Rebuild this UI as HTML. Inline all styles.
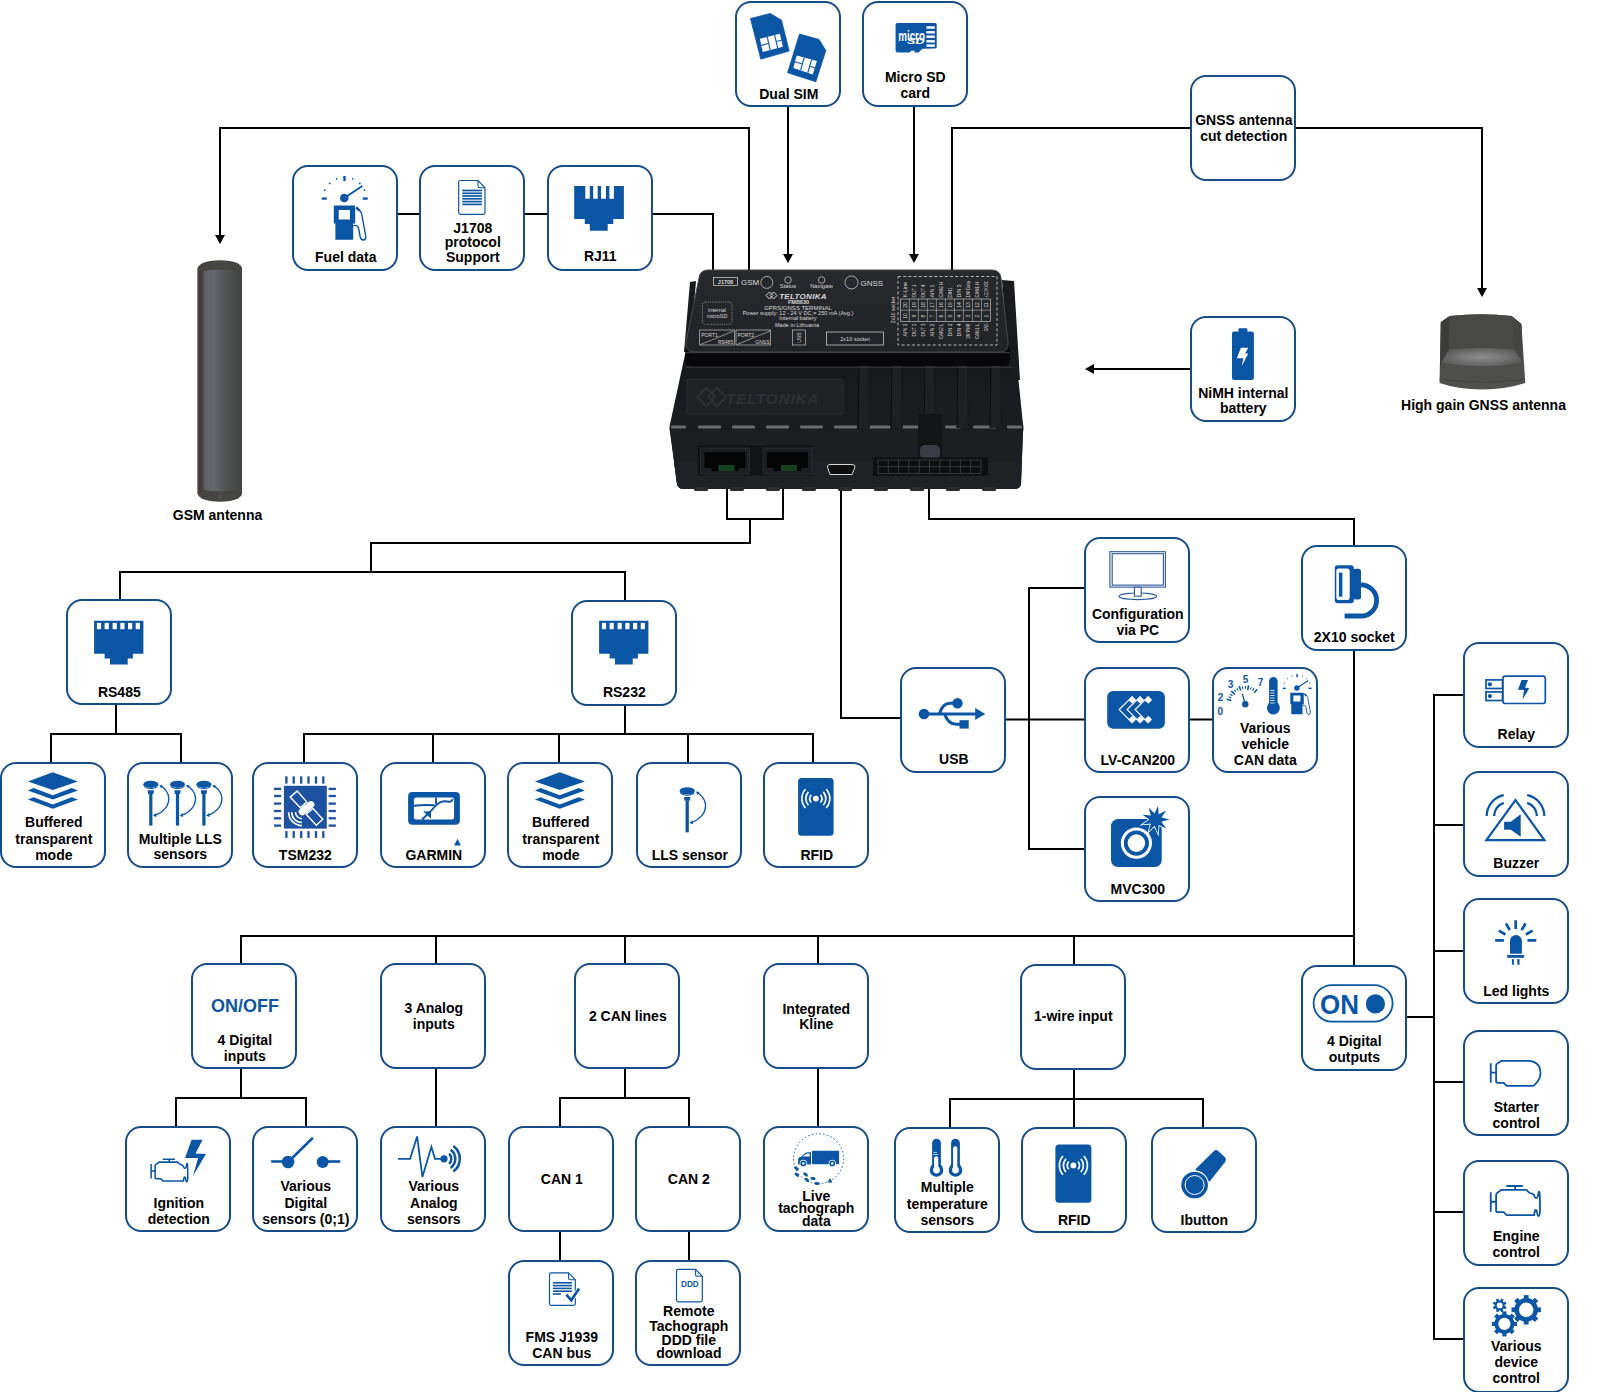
<!DOCTYPE html><html><head><meta charset="utf-8"><style>html,body{margin:0;padding:0;background:#fff;width:1609px;height:1392px;overflow:hidden}svg{display:block}text{font-family:"Liberation Sans",sans-serif;font-weight:bold;font-size:14px;fill:#000}</style></head><body>
<svg width="1609" height="1392" viewBox="0 0 1609 1392">
<rect width="1609" height="1392" fill="#fff"/>
<g fill="none" stroke="#000" stroke-width="2" stroke-linecap="square">
<path d="M749,270 V128 H220 V236"/>
<path d="M398,214 H420"/>
<path d="M524,214 H547"/>
<path d="M652,214 H713 V270"/>
<path d="M788,106 V253"/>
<path d="M914,106 V253"/>
<path d="M952,270 V128 H1191"/>
<path d="M1296,128 H1482 V289"/>
<path d="M1190,369 H1093"/>
<path d="M727,474 V519 H783 V474"/>
<path d="M750,519 V543 H371 V572"/>
<path d="M120,600 V572 H625 V600"/>
<path d="M116,704 V734"/>
<path d="M51,763 V734 H181 V763"/>
<path d="M625,705 V734"/>
<path d="M304,763 V734 H813 V763"/>
<path d="M433,734 V763"/>
<path d="M559,734 V763"/>
<path d="M688,734 V763"/>
<path d="M841,474 V718 H901"/>
<path d="M1005,719.5 H1085"/>
<path d="M1085,588 H1029 V849 H1085"/>
<path d="M1189,719.5 H1212"/>
<path d="M929,476 V519 H1354 V545"/>
<path d="M1354,650 V965"/>
<path d="M241,936 H1354"/>
<path d="M241,936 V964"/>
<path d="M436,936 V964"/>
<path d="M625,936 V964"/>
<path d="M818,936 V964"/>
<path d="M1074,936 V964"/>
<path d="M241,1068 V1098"/>
<path d="M176,1126 V1098 H306 V1126"/>
<path d="M436,1068 V1126"/>
<path d="M625,1068 V1098"/>
<path d="M560,1127 V1098 H689 V1127"/>
<path d="M560,1231 V1260"/>
<path d="M689,1231 V1260"/>
<path d="M818,1068 V1127"/>
<path d="M1074,1069 V1128"/>
<path d="M950,1128 V1099 H1203 V1128"/>
<path d="M1406,1017 H1434"/>
<path d="M1463,695 H1434 V1339 H1463"/>
<path d="M1434,825 H1463"/>
<path d="M1434,951 H1463"/>
<path d="M1434,1082 H1463"/>
<path d="M1434,1212 H1463"/>
</g><g fill="#000">
<path d="M215,235 H225 L220,244 Z"/>
<path d="M783,254 H793 L788,263 Z"/>
<path d="M909,254 H919 L914,263 Z"/>
<path d="M1477,288 H1487 L1482,297 Z"/>
<path d="M1085,369 L1094,364 V374 Z"/>
</g>
<g id="device">
<defs><linearGradient id="dtop" x1="0" y1="0" x2="0" y2="1"><stop offset="0" stop-color="#16171a"/><stop offset="1" stop-color="#222327"/></linearGradient><linearGradient id="lid" x1="0" y1="0" x2="0" y2="1"><stop offset="0" stop-color="#28292c"/><stop offset="1" stop-color="#222326"/></linearGradient></defs>
<path d="M686,350 L1010,350 L1016,356 L1023,424 Q1024,428 1023,432 L1021,484 Q1020,489 1014,489 L684,489 Q678,489 677,484 L670,432 Q669,428 670,424 Z" fill="url(#dtop)"/>
<path d="M670,430 H1023 L1021,484 Q1020,489 1014,489 H684 Q678,489 677,484 Z" fill="#1d1e22"/>
<path d="M674,462 H1021 V484 Q1020,489 1014,489 H684 Q678,489 677,484 Z" fill="#202125" opacity="0.9"/>
<rect x="694" y="487" width="14" height="4" rx="1.5" fill="#2a2c30"/>
<rect x="730" y="487" width="14" height="4" rx="1.5" fill="#2a2c30"/>
<rect x="766" y="487" width="14" height="4" rx="1.5" fill="#2a2c30"/>
<rect x="802" y="487" width="14" height="4" rx="1.5" fill="#2a2c30"/>
<rect x="838" y="487" width="14" height="4" rx="1.5" fill="#2a2c30"/>
<rect x="874" y="487" width="14" height="4" rx="1.5" fill="#2a2c30"/>
<rect x="910" y="487" width="14" height="4" rx="1.5" fill="#2a2c30"/>
<rect x="946" y="487" width="14" height="4" rx="1.5" fill="#2a2c30"/>
<rect x="982" y="487" width="14" height="4" rx="1.5" fill="#2a2c30"/>
<rect x="670" y="425" width="353" height="5" fill="#1a1b1d"/>
<rect x="671" y="425.5" width="15" height="3" rx="1" fill="#6b6d70"/>
<rect x="698" y="425.5" width="23" height="3" rx="1" fill="#6b6d70"/>
<rect x="732" y="425.5" width="23" height="3" rx="1" fill="#6b6d70"/>
<rect x="766" y="425.5" width="23" height="3" rx="1" fill="#6b6d70"/>
<rect x="800" y="425.5" width="23" height="3" rx="1" fill="#6b6d70"/>
<rect x="834" y="425.5" width="23" height="3" rx="1" fill="#6b6d70"/>
<rect x="868" y="425.5" width="23" height="3" rx="1" fill="#6b6d70"/>
<rect x="902" y="425.5" width="23" height="3" rx="1" fill="#6b6d70"/>
<rect x="945" y="425.5" width="16" height="3" rx="1" fill="#6b6d70"/>
<rect x="973" y="425.5" width="23" height="3" rx="1" fill="#6b6d70"/>
<rect x="1007" y="425.5" width="15" height="3" rx="1" fill="#6b6d70"/>
<rect x="687" y="379" width="156" height="35" rx="2" fill="#202125" stroke="#2e3034" stroke-width="0.8"/>
<text x="726" y="404" style="font-family:'Liberation Sans',sans-serif;font-weight:bold;font-style:italic;font-size:15px;fill:#2e3034;letter-spacing:1px">TELTONIKA</text>
<path d="M697,397 l9,-9 l9,9 l-9,9 z M708,397 l9,-9 l9,9 l-9,9 z" fill="none" stroke="#2e3034" stroke-width="2"/>
<path d="M859,365 H868 L869,428 H858 Z" fill="#1f2024"/>
<path d="M859,365 L858,428" stroke="#0e0f11" stroke-width="1.2"/>
<path d="M868.5,365 L869.5,428" stroke="#18191c" stroke-width="1"/>
<rect x="859" y="365" width="9" height="1.6" fill="#55575b"/>
<path d="M892,365 H901 L902,428 H891 Z" fill="#1f2024"/>
<path d="M892,365 L891,428" stroke="#0e0f11" stroke-width="1.2"/>
<path d="M901.5,365 L902.5,428" stroke="#18191c" stroke-width="1"/>
<rect x="892" y="365" width="9" height="1.6" fill="#55575b"/>
<path d="M925,365 H934 L935,428 H924 Z" fill="#1f2024"/>
<path d="M925,365 L924,428" stroke="#0e0f11" stroke-width="1.2"/>
<path d="M934.5,365 L935.5,428" stroke="#18191c" stroke-width="1"/>
<rect x="925" y="365" width="9" height="1.6" fill="#55575b"/>
<path d="M958,365 H967 L968,428 H957 Z" fill="#1f2024"/>
<path d="M958,365 L957,428" stroke="#0e0f11" stroke-width="1.2"/>
<path d="M967.5,365 L968.5,428" stroke="#18191c" stroke-width="1"/>
<rect x="958" y="365" width="9" height="1.6" fill="#55575b"/>
<path d="M991,365 H1000 L1001,428 H990 Z" fill="#1f2024"/>
<path d="M991,365 L990,428" stroke="#0e0f11" stroke-width="1.2"/>
<path d="M1000.5,365 L1001.5,428" stroke="#18191c" stroke-width="1"/>
<rect x="991" y="365" width="9" height="1.6" fill="#55575b"/>
<path d="M918,414 H942 V458 H918 Z" fill="#141517"/>
<rect x="920" y="445" width="20" height="14" rx="5" fill="#3a3d44"/>
<rect x="698" y="445.5" width="114" height="30" fill="#111214"/>
<rect x="700.5" y="448" width="49" height="26" fill="#1d1e21" stroke="#2c2e31" stroke-width="0.8"/>
<path d="M704.5,452 H745.5 V468 H738.5 V471 H711.5 V468 H704.5 Z" fill="#050505"/>
<rect x="718.5" y="465" width="16" height="6" fill="#16401f"/>
<rect x="763" y="448" width="49" height="26" fill="#1d1e21" stroke="#2c2e31" stroke-width="0.8"/>
<path d="M767,452 H808 V468 H801 V471 H774 V468 H767 Z" fill="#050505"/>
<rect x="781" y="465" width="16" height="6" fill="#16401f"/>
<path d="M830,464.5 H852 Q855,464.5 855,467 L852,474.5 H830 L827.5,467 Q827.5,464.5 830,464.5 Z" fill="#0c0c0c" stroke="#d8d8d8" stroke-width="1"/>
<rect x="873" y="457.5" width="115" height="18" fill="#0e0f10"/>
<g fill="none" stroke="#3a3c40" stroke-width="0.9">
<rect x="878" y="460" width="103" height="13.5"/>
<path d="M878,466.7 H981"/>
<path d="M888.3,460 V473.5"/>
<path d="M898.6,460 V473.5"/>
<path d="M908.9,460 V473.5"/>
<path d="M919.2,460 V473.5"/>
<path d="M929.5,460 V473.5"/>
<path d="M939.8,460 V473.5"/>
<path d="M950.1,460 V473.5"/>
<path d="M960.4,460 V473.5"/>
<path d="M970.7,460 V473.5"/>
</g>
<path d="M690,282 L696,281 L690,352 L684,352 Z" fill="#1a1b1d"/>
<path d="M1002,280 L1014,281 L1020,380 L1010,380 Z" fill="#1a1b1d"/>
<path d="M686,344 L1009,344 L1010,358 Q1010,366.5 1003,366.5 L692,366.5 Q685,366.5 685,358 Z" fill="#08080b"/><path d="M686,352.7 H1009.5" stroke="#55575b" stroke-width="0.8"/><path d="M686,367.2 H1012" stroke="#46484c" stroke-width="0.8"/>
<path d="M708,270 H992 Q1000,270 1001,278 L1008,342 Q1009,352 1000,352 H694 Q685,352 686,342 L699,278 Q700,270 708,270 Z" fill="url(#lid)"/>
<path d="M708,270 H992 Q1000,270 1001,278 L1008,342 Q1009,352 1000,352 H694 Q685,352 686,342 L699,278 Q700,270 708,270 Z" fill="none" stroke="#47484b" stroke-width="1"/>
<g><rect x="713.5" y="277.5" width="24" height="8" fill="none" stroke="#d9d9d9" stroke-width="0.7"/><text x="725.5" y="284" text-anchor="middle" style="font-family:'Liberation Sans',sans-serif;fill:#d9d9d9;font-weight:normal;font-size:5.5px;font-weight:bold">J1708</text><text x="741" y="285.2" style="font-family:'Liberation Sans',sans-serif;fill:#d9d9d9;font-weight:normal;font-size:8px">GSM</text><circle cx="766.8" cy="282.4" r="6" fill="none" stroke="#d9d9d9" stroke-width="0.7"/><circle cx="788" cy="280" r="3.3" fill="none" stroke="#d9d9d9" stroke-width="0.7"/><text x="788" y="287.6" text-anchor="middle" style="font-family:'Liberation Sans',sans-serif;fill:#d9d9d9;font-weight:normal;font-size:5.8px">Status</text><circle cx="821.6" cy="280" r="3.3" fill="none" stroke="#d9d9d9" stroke-width="0.7"/><text x="821.6" y="287.6" text-anchor="middle" style="font-family:'Liberation Sans',sans-serif;fill:#d9d9d9;font-weight:normal;font-size:5.8px">Navigate</text><circle cx="851.5" cy="282.4" r="6.5" fill="none" stroke="#d9d9d9" stroke-width="0.7"/><text x="860.5" y="285.5" style="font-family:'Liberation Sans',sans-serif;fill:#d9d9d9;font-weight:normal;font-size:8px">GNSS</text><text x="803" y="299" text-anchor="middle" style="font-family:'Liberation Sans',sans-serif;fill:#d9d9d9;font-weight:normal;font-size:8px;font-weight:bold;font-style:italic;letter-spacing:0.3px">TELTONIKA</text><path d="M766,295.5 l3.5,-3.5 l3.5,3.5 l-3.5,3.5 z M770,295.5 l3.5,-3.5 l3.5,3.5 l-3.5,3.5 z" fill="none" stroke="#d9d9d9" stroke-width="1"/><text x="798.5" y="304.3" text-anchor="middle" style="font-family:'Liberation Sans',sans-serif;fill:#d9d9d9;font-weight:normal;font-size:5.5px;font-weight:bold">FMB630</text><text x="798" y="310.3" text-anchor="middle" style="font-family:'Liberation Sans',sans-serif;fill:#d9d9d9;font-weight:normal;font-size:6px">GPRS/GNSS TERMINAL</text><text x="798" y="315.4" text-anchor="middle" style="font-family:'Liberation Sans',sans-serif;fill:#d9d9d9;font-weight:normal;font-size:5.6px">Power supply: 12 - 24 V DC,= 250 mA (Avg.)</text><text x="798" y="320.4" text-anchor="middle" style="font-family:'Liberation Sans',sans-serif;fill:#d9d9d9;font-weight:normal;font-size:5.6px">Internal battery</text><text x="797" y="327" text-anchor="middle" style="font-family:'Liberation Sans',sans-serif;fill:#d9d9d9;font-weight:normal;font-size:5.6px">Made in Lithuania</text><rect x="702.5" y="302" width="29.5" height="22.3" rx="3" fill="none" stroke="#d9d9d9" stroke-width="0.6" stroke-dasharray="1,1.2"/><text x="717" y="312" text-anchor="middle" style="font-family:'Liberation Sans',sans-serif;fill:#d9d9d9;font-weight:normal;font-size:5.4px">Internal</text><text x="717" y="317.5" text-anchor="middle" style="font-family:'Liberation Sans',sans-serif;fill:#d9d9d9;font-weight:normal;font-size:5.4px">microSD</text><rect x="699.7" y="330" width="34.7" height="15" fill="none" stroke="#d9d9d9" stroke-width="0.6"/><path d="M700.7,344.5 L733.7,331" stroke="#d9d9d9" stroke-width="0.6"/><text x="701.2" y="336.5" style="font-family:'Liberation Sans',sans-serif;fill:#d9d9d9;font-weight:normal;font-size:5px">PORT1</text><text x="733.2" y="344" text-anchor="end" style="font-family:'Liberation Sans',sans-serif;fill:#d9d9d9;font-weight:normal;font-size:5px">RS485</text><rect x="736" y="330" width="34.7" height="15" fill="none" stroke="#d9d9d9" stroke-width="0.6"/><path d="M737,344.5 L770,331" stroke="#d9d9d9" stroke-width="0.6"/><text x="737.5" y="336.5" style="font-family:'Liberation Sans',sans-serif;fill:#d9d9d9;font-weight:normal;font-size:5px">PORT2</text><text x="769.5" y="344" text-anchor="end" style="font-family:'Liberation Sans',sans-serif;fill:#d9d9d9;font-weight:normal;font-size:5px">GNSS</text><rect x="792.5" y="330" width="12.9" height="15" fill="none" stroke="#d9d9d9" stroke-width="0.6"/><text x="0" y="0" transform="translate(801,337.5) rotate(-90)" text-anchor="middle" style="font-family:'Liberation Sans',sans-serif;fill:#d9d9d9;font-weight:normal;font-size:5px">USB</text><rect x="826.6" y="332" width="57" height="13" fill="none" stroke="#d9d9d9" stroke-width="0.7"/><text x="855" y="340.8" text-anchor="middle" style="font-family:'Liberation Sans',sans-serif;fill:#d9d9d9;font-weight:normal;font-size:5.5px">2x10 socket</text><rect x="898" y="276.5" width="99" height="68.5" fill="none" stroke="#d9d9d9" stroke-width="0.8" stroke-dasharray="3,2.2"/><rect x="900.3" y="299" width="90.2" height="22.4" fill="none" stroke="#d9d9d9" stroke-width="0.6"/><path d="M900.3,310.2 H990.5" stroke="#d9d9d9" stroke-width="0.5"/><path d="M909.32,299 V321.4" stroke="#d9d9d9" stroke-width="0.5"/><path d="M918.34,299 V321.4" stroke="#d9d9d9" stroke-width="0.5"/><path d="M927.36,299 V321.4" stroke="#d9d9d9" stroke-width="0.5"/><path d="M936.38,299 V321.4" stroke="#d9d9d9" stroke-width="0.5"/><path d="M945.40,299 V321.4" stroke="#d9d9d9" stroke-width="0.5"/><path d="M954.42,299 V321.4" stroke="#d9d9d9" stroke-width="0.5"/><path d="M963.44,299 V321.4" stroke="#d9d9d9" stroke-width="0.5"/><path d="M972.46,299 V321.4" stroke="#d9d9d9" stroke-width="0.5"/><path d="M981.48,299 V321.4" stroke="#d9d9d9" stroke-width="0.5"/><text transform="translate(906.8,297.5) rotate(-90)" textLength="15.6" lengthAdjust="spacingAndGlyphs" style="font-family:'Liberation Sans',sans-serif;fill:#d9d9d9;font-weight:normal;font-size:5.2px">K-Line</text><text transform="translate(906.8,323.5) rotate(-90)" text-anchor="end" textLength="13.0" lengthAdjust="spacingAndGlyphs" style="font-family:'Liberation Sans',sans-serif;fill:#d9d9d9;font-weight:normal;font-size:5.2px">AIN 3</text><text transform="translate(906.8,305) rotate(-90)" text-anchor="middle" style="font-family:'Liberation Sans',sans-serif;fill:#d9d9d9;font-weight:normal;font-size:5px">20</text><text transform="translate(906.8,316) rotate(-90)" text-anchor="middle" style="font-family:'Liberation Sans',sans-serif;fill:#d9d9d9;font-weight:normal;font-size:5px">10</text><text transform="translate(915.8,297.5) rotate(-90)" textLength="13.0" lengthAdjust="spacingAndGlyphs" style="font-family:'Liberation Sans',sans-serif;fill:#d9d9d9;font-weight:normal;font-size:5.2px">OUT 1</text><text transform="translate(915.8,323.5) rotate(-90)" text-anchor="end" textLength="13.0" lengthAdjust="spacingAndGlyphs" style="font-family:'Liberation Sans',sans-serif;fill:#d9d9d9;font-weight:normal;font-size:5.2px">OUT 2</text><text transform="translate(915.8,305) rotate(-90)" text-anchor="middle" style="font-family:'Liberation Sans',sans-serif;fill:#d9d9d9;font-weight:normal;font-size:5px">19</text><text transform="translate(915.8,316) rotate(-90)" text-anchor="middle" style="font-family:'Liberation Sans',sans-serif;fill:#d9d9d9;font-weight:normal;font-size:5px">9</text><text transform="translate(924.8,297.5) rotate(-90)" textLength="13.0" lengthAdjust="spacingAndGlyphs" style="font-family:'Liberation Sans',sans-serif;fill:#d9d9d9;font-weight:normal;font-size:5.2px">OUT 4</text><text transform="translate(924.8,323.5) rotate(-90)" text-anchor="end" textLength="13.0" lengthAdjust="spacingAndGlyphs" style="font-family:'Liberation Sans',sans-serif;fill:#d9d9d9;font-weight:normal;font-size:5.2px">OUT 3</text><text transform="translate(924.8,305) rotate(-90)" text-anchor="middle" style="font-family:'Liberation Sans',sans-serif;fill:#d9d9d9;font-weight:normal;font-size:5px">18</text><text transform="translate(924.8,316) rotate(-90)" text-anchor="middle" style="font-family:'Liberation Sans',sans-serif;fill:#d9d9d9;font-weight:normal;font-size:5px">8</text><text transform="translate(933.9,297.5) rotate(-90)" textLength="13.0" lengthAdjust="spacingAndGlyphs" style="font-family:'Liberation Sans',sans-serif;fill:#d9d9d9;font-weight:normal;font-size:5.2px">AIN 1</text><text transform="translate(933.9,323.5) rotate(-90)" text-anchor="end" textLength="13.0" lengthAdjust="spacingAndGlyphs" style="font-family:'Liberation Sans',sans-serif;fill:#d9d9d9;font-weight:normal;font-size:5.2px">AIN 2</text><text transform="translate(933.9,305) rotate(-90)" text-anchor="middle" style="font-family:'Liberation Sans',sans-serif;fill:#d9d9d9;font-weight:normal;font-size:5px">17</text><text transform="translate(933.9,316) rotate(-90)" text-anchor="middle" style="font-family:'Liberation Sans',sans-serif;fill:#d9d9d9;font-weight:normal;font-size:5px">7</text><text transform="translate(942.9,297.5) rotate(-90)" textLength="15.6" lengthAdjust="spacingAndGlyphs" style="font-family:'Liberation Sans',sans-serif;fill:#d9d9d9;font-weight:normal;font-size:5.2px">CAN2 H</text><text transform="translate(942.9,323.5) rotate(-90)" text-anchor="end" textLength="15.6" lengthAdjust="spacingAndGlyphs" style="font-family:'Liberation Sans',sans-serif;fill:#d9d9d9;font-weight:normal;font-size:5.2px">CAN2 L</text><text transform="translate(942.9,305) rotate(-90)" text-anchor="middle" style="font-family:'Liberation Sans',sans-serif;fill:#d9d9d9;font-weight:normal;font-size:5px">16</text><text transform="translate(942.9,316) rotate(-90)" text-anchor="middle" style="font-family:'Liberation Sans',sans-serif;fill:#d9d9d9;font-weight:normal;font-size:5px">6</text><text transform="translate(951.9,297.5) rotate(-90)" textLength="10.4" lengthAdjust="spacingAndGlyphs" style="font-family:'Liberation Sans',sans-serif;fill:#d9d9d9;font-weight:normal;font-size:5.2px">DIN1</text><text transform="translate(951.9,323.5) rotate(-90)" text-anchor="end" textLength="13.0" lengthAdjust="spacingAndGlyphs" style="font-family:'Liberation Sans',sans-serif;fill:#d9d9d9;font-weight:normal;font-size:5.2px">DIN 2</text><text transform="translate(951.9,305) rotate(-90)" text-anchor="middle" style="font-family:'Liberation Sans',sans-serif;fill:#d9d9d9;font-weight:normal;font-size:5px">15</text><text transform="translate(951.9,316) rotate(-90)" text-anchor="middle" style="font-family:'Liberation Sans',sans-serif;fill:#d9d9d9;font-weight:normal;font-size:5px">5</text><text transform="translate(960.9,297.5) rotate(-90)" textLength="13.0" lengthAdjust="spacingAndGlyphs" style="font-family:'Liberation Sans',sans-serif;fill:#d9d9d9;font-weight:normal;font-size:5.2px">DIN 3</text><text transform="translate(960.9,323.5) rotate(-90)" text-anchor="end" textLength="13.0" lengthAdjust="spacingAndGlyphs" style="font-family:'Liberation Sans',sans-serif;fill:#d9d9d9;font-weight:normal;font-size:5.2px">DIN 4</text><text transform="translate(960.9,305) rotate(-90)" text-anchor="middle" style="font-family:'Liberation Sans',sans-serif;fill:#d9d9d9;font-weight:normal;font-size:5px">14</text><text transform="translate(960.9,316) rotate(-90)" text-anchor="middle" style="font-family:'Liberation Sans',sans-serif;fill:#d9d9d9;font-weight:normal;font-size:5px">4</text><text transform="translate(969.9,297.5) rotate(-90)" textLength="16.5" lengthAdjust="spacingAndGlyphs" style="font-family:'Liberation Sans',sans-serif;fill:#d9d9d9;font-weight:normal;font-size:5.2px">1W Data</text><text transform="translate(969.9,323.5) rotate(-90)" text-anchor="end" textLength="15.6" lengthAdjust="spacingAndGlyphs" style="font-family:'Liberation Sans',sans-serif;fill:#d9d9d9;font-weight:normal;font-size:5.2px">1W PWR</text><text transform="translate(969.9,305) rotate(-90)" text-anchor="middle" style="font-family:'Liberation Sans',sans-serif;fill:#d9d9d9;font-weight:normal;font-size:5px">13</text><text transform="translate(969.9,316) rotate(-90)" text-anchor="middle" style="font-family:'Liberation Sans',sans-serif;fill:#d9d9d9;font-weight:normal;font-size:5px">3</text><text transform="translate(979.0,297.5) rotate(-90)" textLength="15.6" lengthAdjust="spacingAndGlyphs" style="font-family:'Liberation Sans',sans-serif;fill:#d9d9d9;font-weight:normal;font-size:5.2px">CAN1 H</text><text transform="translate(979.0,323.5) rotate(-90)" text-anchor="end" textLength="15.6" lengthAdjust="spacingAndGlyphs" style="font-family:'Liberation Sans',sans-serif;fill:#d9d9d9;font-weight:normal;font-size:5.2px">CAN1 L</text><text transform="translate(979.0,305) rotate(-90)" text-anchor="middle" style="font-family:'Liberation Sans',sans-serif;fill:#d9d9d9;font-weight:normal;font-size:5px">12</text><text transform="translate(979.0,316) rotate(-90)" text-anchor="middle" style="font-family:'Liberation Sans',sans-serif;fill:#d9d9d9;font-weight:normal;font-size:5px">2</text><text transform="translate(988.0,297.5) rotate(-90)" textLength="16.5" lengthAdjust="spacingAndGlyphs" style="font-family:'Liberation Sans',sans-serif;fill:#d9d9d9;font-weight:normal;font-size:5.2px">+12,24 VDC</text><text transform="translate(988.0,323.5) rotate(-90)" text-anchor="end" textLength="7.8" lengthAdjust="spacingAndGlyphs" style="font-family:'Liberation Sans',sans-serif;fill:#d9d9d9;font-weight:normal;font-size:5.2px">GND</text><text transform="translate(988.0,305) rotate(-90)" text-anchor="middle" style="font-family:'Liberation Sans',sans-serif;fill:#d9d9d9;font-weight:normal;font-size:5px">11</text><text transform="translate(988.0,316) rotate(-90)" text-anchor="middle" style="font-family:'Liberation Sans',sans-serif;fill:#d9d9d9;font-weight:normal;font-size:5px">1</text><text transform="translate(894.5,310) rotate(-90)" text-anchor="middle" style="font-family:'Liberation Sans',sans-serif;fill:#d9d9d9;font-weight:normal;font-size:5px">2x10 socket</text></g>
</g>
<defs><linearGradient id="gsmg" x1="0" y1="0" x2="1" y2="0"><stop offset="0" stop-color="#5d6064"/><stop offset="0.25" stop-color="#65686c"/><stop offset="0.6" stop-color="#505152"/><stop offset="1" stop-color="#434441"/></linearGradient></defs><path d="M197.5,268 Q199,263 210,261 Q220,259.5 230,261 Q241,263 242,268 V494 Q241,499 230,501 Q220,502.5 210,501 Q199,499 197.5,494 Z" fill="#454643"/><path d="M198,268 V494" stroke="#7a4a50" stroke-width="1" opacity="0.8"/><path d="M200,270 V492" stroke="#3a3b39" stroke-width="2"/><path d="M203.8,271 Q222,268 242,272 V489 Q222,493 203.8,490 Z" fill="url(#gsmg)"/><path d="M220,495 V500" stroke="#5a5a5a" stroke-width="1.5"/>
<defs><radialGradient id="gnb" cx="0.5" cy="0.5" r="0.6"><stop offset="0" stop-color="#8e8e8e"/><stop offset="0.6" stop-color="#6c6c6c"/><stop offset="1" stop-color="#525252"/></radialGradient></defs><path d="M1449.6,316 Q1482,312.5 1511.6,316 L1521.4,324 L1525.3,383 Q1505,389.5 1482,389.5 Q1459,389.5 1439.5,383 L1440.8,322.3 Z" fill="#50504e"/><path d="M1440.8,322.3 L1449.6,316 L1449,350 L1444,366 L1440,366 Z" fill="#3c3c3b"/><path d="M1521.4,324 L1511.6,316 L1514.2,350 L1519,366 L1523,366 Z" fill="#454544"/><path d="M1449.6,316 Q1482,312.5 1511.6,316 L1514.2,349.5 Q1482,346.5 1449,349.5 Z" fill="#484846"/><path d="M1449,349.5 Q1482,346.5 1514.2,349.5 L1523,363 Q1482,370 1441,363 Z" fill="url(#gnb)"/><path d="M1441,363 Q1482,370 1523,363 L1524.5,379 Q1482,384 1439.8,379 Z" fill="#4e4e4c"/><path d="M1439.8,379.5 Q1482,384.5 1524.5,379.5" fill="none" stroke="#3e3e3d" stroke-width="0.8"/>
<text x="217.5" y="520" text-anchor="middle">GSM antenna</text>
<text x="1483.5" y="409.7" text-anchor="middle">High gain GNSS antenna</text>
<rect x="736" y="2" width="104" height="104" rx="15" ry="15" fill="#fff" stroke="#164c88" stroke-width="2"/>
<text x="788.8" y="98.5" text-anchor="middle">Dual SIM</text>
<g transform="translate(735,1)"><polygon points="15.50,17.50 35.40,12.50 46.50,19.20 54.20,50.10 25.80,58.20" fill="#0b56a4" stroke="#0b56a4" stroke-width="0.8" stroke-linejoin="round"/><polygon points="24.90,37.70 44.80,32.70 47.90,45.70 27.70,51.00" fill="#fff"/><line x1="32.26" y1="35.85" x2="35.17" y2="49.04" stroke="#0b56a4" stroke-width="1.1"/><line x1="39.63" y1="34.00" x2="42.65" y2="47.08" stroke="#0b56a4" stroke-width="1.1"/><line x1="26.30" y1="44.35" x2="33.72" y2="42.44" stroke="#0b56a4" stroke-width="1.1"/><line x1="41.14" y1="40.54" x2="46.35" y2="39.20" stroke="#0b56a4" stroke-width="1.1"/><polygon points="64.50,33.00 84.10,38.50 90.80,49.60 80.80,80.80 52.60,71.70" fill="#0b56a4" stroke="#0b56a4" stroke-width="0.8" stroke-linejoin="round"/><polygon points="61.70,54.60 81.90,60.10 77.80,73.40 58.40,67.00" fill="#fff"/><line x1="69.17" y1="56.64" x2="65.58" y2="69.37" stroke="#0b56a4" stroke-width="1.1"/><line x1="76.65" y1="58.67" x2="72.76" y2="71.74" stroke="#0b56a4" stroke-width="1.1"/><line x1="60.05" y1="60.80" x2="67.38" y2="63.00" stroke="#0b56a4" stroke-width="1.1"/><line x1="74.70" y1="65.20" x2="79.85" y2="66.75" stroke="#0b56a4" stroke-width="1.1"/></g>
<rect x="863" y="2" width="104" height="104" rx="15" ry="15" fill="#fff" stroke="#164c88" stroke-width="2"/>
<text x="915.3" y="81.6" text-anchor="middle">Micro SD</text>
<text x="915.3" y="98" text-anchor="middle">card</text>
<g transform="translate(862,1)"><path d="M35.5,22 H73 Q74.7,22 74.7,24 V46 Q74.7,47.5 73,47.6 L60.3,47.8 L56.7,51.6 H52.5 V49.7 H49 L47.8,51.6 H35.5 Q33.6,51.6 33.6,49.6 V24 Q33.6,22 35.5,22 Z" fill="#0b56a4"/><rect x="64.4" y="25.3" width="8.4" height="2.4" fill="#fff"/><rect x="64.4" y="30.1" width="8.4" height="2.4" fill="#fff"/><rect x="64.4" y="34.5" width="8.4" height="2.4" fill="#fff"/><rect x="64.4" y="39.1" width="8.4" height="2.4" fill="#fff"/><rect x="64.4" y="43.4" width="8.4" height="2.4" fill="#fff"/><text x="36.2" y="39.6" textLength="26.7" lengthAdjust="spacingAndGlyphs" style="font-family:'Liberation Sans',sans-serif;font-weight:bold;font-size:15px;fill:#fff">micro</text><rect x="44.5" y="39.4" width="19" height="4" fill="#0b56a4"/><text x="45" y="42.9" textLength="17.5" lengthAdjust="spacingAndGlyphs" style="font-family:'Liberation Sans',sans-serif;font-weight:bold;font-style:italic;font-size:8.5px;fill:#fff">SD</text></g>
<rect x="293" y="166" width="104" height="104" rx="15" ry="15" fill="#fff" stroke="#164c88" stroke-width="2"/>
<text x="345.8" y="261.7" text-anchor="middle">Fuel data</text>
<g transform="translate(292,165)"><g fill="#0b56a4"><circle cx="52.3" cy="33" r="4.3"/><line x1="52.3" y1="33" x2="70.3" y2="21" stroke="#0b56a4" stroke-width="1.9"/><rect x="29.8" y="32.4" width="5" height="2.3"/><rect x="70.7" y="32.4" width="5" height="2.3"/><rect x="51.3" y="11" width="2.4" height="5"/><circle cx="32.7" cy="25.2" r="0.9"/><circle cx="37.6" cy="18.4" r="0.9"/><circle cx="44.7" cy="13.8" r="0.9"/><circle cx="60.8" cy="13.8" r="0.9"/><circle cx="67.8" cy="18.4" r="0.9"/><circle cx="72.5" cy="25.2" r="0.9"/><path fill-rule="evenodd" d="M41.8,40.5 H63.2 V58.6 H61.2 V74.8 H43.4 V58.6 H41.8 Z M46.7,45 V54.5 H57.9 V45 Z"/><path d="M61.2,60.6 H64 Q66,60.8 66.5,63 L68.2,72 Q69,75 71.5,75 Q74,74.8 73.8,71.5 L70.2,52 Q70,48 68.5,46.5 L64.5,42.3" fill="none" stroke="#0b56a4" stroke-width="1.4"/><path d="M63.5,43.5 L66.5,46.5 L68.5,45 L65,41.5 Z"/></g></g>
<rect x="420" y="166" width="104" height="104" rx="15" ry="15" fill="#fff" stroke="#164c88" stroke-width="2"/>
<text x="472.8" y="232.8" text-anchor="middle">J1708</text>
<text x="472.8" y="247.3" text-anchor="middle">protocol</text>
<text x="472.8" y="261.9" text-anchor="middle">Support</text>
<g transform="translate(420,165)"><path d="M40.5,15.5 H58 L65,22.8 V47.5 Q65,49.3 63.2,49.3 H40.5 Q38.7,49.3 38.7,47.5 V17.3 Q38.7,15.5 40.5,15.5 Z" fill="#fff" stroke="#0b56a4" stroke-width="1.2"/><path d="M58,15.5 V21 Q58,22.8 59.8,22.8 H65" fill="none" stroke="#0b56a4" stroke-width="1.1"/><rect x="42.3" y="24.65" width="19.6" height="1.7" fill="#0b56a4"/><rect x="42.3" y="27.45" width="19.6" height="1.7" fill="#0b56a4"/><rect x="42.3" y="30.15" width="19.6" height="1.7" fill="#0b56a4"/><rect x="42.3" y="32.95" width="19.6" height="1.7" fill="#0b56a4"/><rect x="42.3" y="35.75" width="19.6" height="1.7" fill="#0b56a4"/><rect x="42.3" y="38.55" width="19.6" height="1.7" fill="#0b56a4"/></g>
<rect x="548" y="166" width="104" height="104" rx="15" ry="15" fill="#fff" stroke="#164c88" stroke-width="2"/>
<text x="600.3" y="261.2" text-anchor="middle">RJ11</text>
<g transform="translate(547,165)"><path d="M27.2,21 H38.3 V33.8 H42.8 V21 H46.2 V33.8 H50.7 V21 H54 V33.8 H59 V21 H62.4 V33.8 H66.9 V21 H76.9 V54 H66.3 V59 H60.7 V65.7 H42.8 V59 H37.8 V54 H27.2 Z" fill="#0b56a4"/></g>
<rect x="1191" y="76" width="104" height="104" rx="15" ry="15" fill="#fff" stroke="#164c88" stroke-width="2"/>
<text x="1243.8" y="125" text-anchor="middle">GNSS antenna</text>
<text x="1243.8" y="140.5" text-anchor="middle">cut detection</text>
<rect x="1191" y="317" width="104" height="104" rx="15" ry="15" fill="#fff" stroke="#164c88" stroke-width="2"/>
<text x="1243.3" y="397.7" text-anchor="middle">NiMH internal</text>
<text x="1243.3" y="413" text-anchor="middle">battery</text>
<g transform="translate(1190,317)"><rect x="42" y="14.5" width="21.9" height="48.5" rx="2.2" fill="#0b56a4"/><rect x="48.5" y="11.3" width="8.9" height="4" rx="1" fill="#0b56a4"/><polygon points="50.9,30.7 58.2,30.7 55.2,36.6 58.2,36.6 51.7,49.2 53.4,41.2 46.9,41.2" fill="#fff"/></g>
<rect x="67" y="600" width="104" height="104" rx="15" ry="15" fill="#fff" stroke="#164c88" stroke-width="2"/>
<text x="119.3" y="696.6" text-anchor="middle">RS485</text>
<g transform="translate(66,600)"><path d="M28.1,20.7 H77.4 V53.7 H66.9 V58.6 H61.7 V64.6 H44 V58.6 H38.6 V53.7 H28.1 Z" fill="#0b56a4"/><rect x="30.90" y="22.9" width="4.2" height="6.3" fill="#fff"/><rect x="38.60" y="22.9" width="4.2" height="6.3" fill="#fff"/><rect x="46.60" y="22.9" width="4.2" height="6.3" fill="#fff"/><rect x="54.30" y="22.9" width="4.2" height="6.3" fill="#fff"/><rect x="62.00" y="22.9" width="4.2" height="6.3" fill="#fff"/><rect x="69.70" y="22.9" width="4.2" height="6.3" fill="#fff"/></g>
<rect x="572" y="601" width="104" height="104" rx="15" ry="15" fill="#fff" stroke="#164c88" stroke-width="2"/>
<text x="624.3" y="696.5" text-anchor="middle">RS232</text>
<g transform="translate(571,600)"><path d="M28.1,20.7 H77.4 V53.7 H66.9 V58.6 H61.7 V64.6 H44 V58.6 H38.6 V53.7 H28.1 Z" fill="#0b56a4"/><rect x="30.90" y="22.9" width="4.2" height="6.3" fill="#fff"/><rect x="38.60" y="22.9" width="4.2" height="6.3" fill="#fff"/><rect x="46.60" y="22.9" width="4.2" height="6.3" fill="#fff"/><rect x="54.30" y="22.9" width="4.2" height="6.3" fill="#fff"/><rect x="62.00" y="22.9" width="4.2" height="6.3" fill="#fff"/><rect x="69.70" y="22.9" width="4.2" height="6.3" fill="#fff"/></g>
<rect x="1" y="763" width="104" height="104" rx="15" ry="15" fill="#fff" stroke="#164c88" stroke-width="2"/>
<text x="53.8" y="827" text-anchor="middle">Buffered</text>
<text x="53.8" y="844" text-anchor="middle">transparent</text>
<text x="53.8" y="860" text-anchor="middle">mode</text>
<g transform="translate(1,763)"><g fill="#0b56a4"><polygon points="26.9,18.4 51.8,9.2 76.9,18.4 51.8,26.9"/><polygon points="26.9,27.4 32.6,25.1 51.8,32.3 70.7,25.1 76.9,27.4 51.8,36.6"/><polygon points="26.9,36.6 32.6,34.3 51.8,41.5 70.7,34.3 76.9,36.6 51.8,45.8"/></g></g>
<rect x="128" y="763" width="104" height="104" rx="15" ry="15" fill="#fff" stroke="#164c88" stroke-width="2"/>
<text x="180.3" y="843.5" text-anchor="middle">Multiple LLS</text>
<text x="180.3" y="859" text-anchor="middle">sensors</text>
<g transform="translate(127,763)"><g transform="translate(0,0)"><ellipse cx="23.8" cy="21.3" rx="7.5" ry="3.6" fill="#0b56a4"/><path d="M16.8,23.5 Q23.8,27.8 30.8,23.5" fill="none" stroke="#0b56a4" stroke-width="1"/><path d="M20.6,27.3 H27.0 L26.400000000000002,30.9 H21.2 Z" fill="#0b56a4"/><rect x="22.2" y="30.9" width="3.2" height="31.699999999999996" fill="#0b56a4"/><path d="M33.8,22.8 Q45.8,31.3 39.8,43.3 Q34.8,50.3 27.3,52.3" fill="none" stroke="#0b56a4" stroke-width="1.3"/><polygon points="32.3,21.900000000000002 36.0,22.5 34.1,25.3" fill="#0b56a4"/><polygon points="26.0,52.8 29.1,50.1 29.4,53.900000000000006" fill="#0b56a4"/></g><g transform="translate(26.7,0)"><ellipse cx="23.8" cy="21.3" rx="7.5" ry="3.6" fill="#0b56a4"/><path d="M16.8,23.5 Q23.8,27.8 30.8,23.5" fill="none" stroke="#0b56a4" stroke-width="1"/><path d="M20.6,27.3 H27.0 L26.400000000000002,30.9 H21.2 Z" fill="#0b56a4"/><rect x="22.2" y="30.9" width="3.2" height="31.699999999999996" fill="#0b56a4"/><path d="M33.8,22.8 Q45.8,31.3 39.8,43.3 Q34.8,50.3 27.3,52.3" fill="none" stroke="#0b56a4" stroke-width="1.3"/><polygon points="32.3,21.900000000000002 36.0,22.5 34.1,25.3" fill="#0b56a4"/><polygon points="26.0,52.8 29.1,50.1 29.4,53.900000000000006" fill="#0b56a4"/></g><g transform="translate(53.1,0)"><ellipse cx="23.8" cy="21.3" rx="7.5" ry="3.6" fill="#0b56a4"/><path d="M16.8,23.5 Q23.8,27.8 30.8,23.5" fill="none" stroke="#0b56a4" stroke-width="1"/><path d="M20.6,27.3 H27.0 L26.400000000000002,30.9 H21.2 Z" fill="#0b56a4"/><rect x="22.2" y="30.9" width="3.2" height="31.699999999999996" fill="#0b56a4"/><path d="M33.8,22.8 Q45.8,31.3 39.8,43.3 Q34.8,50.3 27.3,52.3" fill="none" stroke="#0b56a4" stroke-width="1.3"/><polygon points="32.3,21.900000000000002 36.0,22.5 34.1,25.3" fill="#0b56a4"/><polygon points="26.0,52.8 29.1,50.1 29.4,53.900000000000006" fill="#0b56a4"/></g></g>
<rect x="253" y="763" width="104" height="104" rx="15" ry="15" fill="#fff" stroke="#164c88" stroke-width="2"/>
<text x="305.3" y="859.5" text-anchor="middle">TSM232</text>
<g transform="translate(252,763)"><rect x="31.9" y="22.8" width="42.9" height="42.8" fill="#1d52a0"/><rect x="33.25" y="13.3" width="2.3" height="7.3" fill="#1d52a0"/><rect x="33.25" y="68.1" width="2.3" height="6.8" fill="#1d52a0"/><rect x="40.55" y="13.3" width="2.3" height="7.3" fill="#1d52a0"/><rect x="40.55" y="68.1" width="2.3" height="6.8" fill="#1d52a0"/><rect x="48.05" y="13.3" width="2.3" height="7.3" fill="#1d52a0"/><rect x="48.05" y="68.1" width="2.3" height="6.8" fill="#1d52a0"/><rect x="55.35" y="13.3" width="2.3" height="7.3" fill="#1d52a0"/><rect x="55.35" y="68.1" width="2.3" height="6.8" fill="#1d52a0"/><rect x="62.85" y="13.3" width="2.3" height="7.3" fill="#1d52a0"/><rect x="62.85" y="68.1" width="2.3" height="6.8" fill="#1d52a0"/><rect x="70.15" y="13.3" width="2.3" height="7.3" fill="#1d52a0"/><rect x="70.15" y="68.1" width="2.3" height="6.8" fill="#1d52a0"/><rect x="22" y="24.75" width="7.1" height="2.3" fill="#1d52a0"/><rect x="76.6" y="24.75" width="7.3" height="2.3" fill="#1d52a0"/><rect x="22" y="31.85" width="7.1" height="2.3" fill="#1d52a0"/><rect x="76.6" y="31.85" width="7.3" height="2.3" fill="#1d52a0"/><rect x="22" y="39.45" width="7.1" height="2.3" fill="#1d52a0"/><rect x="76.6" y="39.45" width="7.3" height="2.3" fill="#1d52a0"/><rect x="22" y="46.85" width="7.1" height="2.3" fill="#1d52a0"/><rect x="76.6" y="46.85" width="7.3" height="2.3" fill="#1d52a0"/><rect x="22" y="54.15" width="7.1" height="2.3" fill="#1d52a0"/><rect x="76.6" y="54.15" width="7.3" height="2.3" fill="#1d52a0"/><rect x="22" y="61.45" width="7.1" height="2.3" fill="#1d52a0"/><rect x="76.6" y="61.45" width="7.3" height="2.3" fill="#1d52a0"/><g fill="none" stroke="#fff" stroke-width="1.4"><polygon points="38.1,34.1 45.2,28.1 54.7,38.9 48.4,44.7"/><polygon points="54.2,51.2 61,45.5 70.8,56.3 64.3,62.3"/></g><line x1="50.2" y1="48.8" x2="58.8" y2="41.6" stroke="#fff" stroke-width="7" stroke-linecap="round"/><g fill="none" stroke="#fff" stroke-width="1.6"><path d="M43.50,49.2 A6.5,6.5 0 0 0 50,55.70"/><path d="M39.70,49.2 A10.3,10.3 0 0 0 50,59.50"/><path d="M36.60,49.2 A13.4,13.4 0 0 0 50,62.60"/></g></g>
<rect x="381" y="763" width="104" height="104" rx="15" ry="15" fill="#fff" stroke="#164c88" stroke-width="2"/>
<text x="433.8" y="859.7" text-anchor="middle">GARMIN</text>
<g transform="translate(381,763)"><path fill-rule="evenodd" fill="#0b56a4" d="M31.5,29.1 H74.5 Q78.9,29.1 78.9,33.5 V57.3 Q78.9,61.7 74.5,61.7 H31.5 Q27.1,61.7 27.1,57.3 V33.5 Q27.1,29.1 31.5,29.1 Z M35.4,34.6 H70.6 Q73.1,34.6 73.1,37.1 V54 Q73.1,56.5 70.6,56.5 H35.4 Q32.9,56.5 32.9,54 V37.1 Q32.9,34.6 35.4,34.6 Z"/><g fill="none" stroke="#0b56a4" stroke-width="1.9"><path d="M32.9,42.8 Q43,41.6 53.7,42.3"/><path d="M55,34.6 V41"/><path d="M71.8,36.1 Q71,39.5 66,38.5 Q61,37.6 58,40 Q55,42 50.2,47.7 L41.1,56.5"/></g><polygon points="42.2,48.2 50,48.4 50,55.7" fill="#0b56a4"/><polygon points="73.1,82.6 76.5,75.8 79.9,82.6" fill="#0b56a4"/></g>
<rect x="508" y="763" width="104" height="104" rx="15" ry="15" fill="#fff" stroke="#164c88" stroke-width="2"/>
<text x="560.8" y="827" text-anchor="middle">Buffered</text>
<text x="560.8" y="844" text-anchor="middle">transparent</text>
<text x="560.8" y="860" text-anchor="middle">mode</text>
<g transform="translate(508,763)"><g fill="#0b56a4"><polygon points="26.9,18.4 51.8,9.2 76.9,18.4 51.8,26.9"/><polygon points="26.9,27.4 32.6,25.1 51.8,32.3 70.7,25.1 76.9,27.4 51.8,36.6"/><polygon points="26.9,36.6 32.6,34.3 51.8,41.5 70.7,34.3 76.9,36.6 51.8,45.8"/></g></g>
<rect x="637" y="763" width="104" height="104" rx="15" ry="15" fill="#fff" stroke="#164c88" stroke-width="2"/>
<text x="689.8" y="859.7" text-anchor="middle">LLS sensor</text>
<g transform="translate(637,763)"><g transform="translate(50.2,27.9) scale(1.02) translate(-23.8,-21.3)"><g transform="translate(0,0)"><ellipse cx="23.8" cy="21.3" rx="7.5" ry="3.6" fill="#0b56a4"/><path d="M16.8,23.5 Q23.8,27.8 30.8,23.5" fill="none" stroke="#0b56a4" stroke-width="1"/><path d="M20.6,27.3 H27.0 L26.400000000000002,30.9 H21.2 Z" fill="#0b56a4"/><rect x="22.2" y="30.9" width="3.2" height="30.999999999999993" fill="#0b56a4"/><path d="M33.8,22.8 Q45.8,31.3 39.8,43.3 Q34.8,50.3 27.3,52.3" fill="none" stroke="#0b56a4" stroke-width="1.3"/><polygon points="32.3,21.900000000000002 36.0,22.5 34.1,25.3" fill="#0b56a4"/><polygon points="26.0,52.8 29.1,50.1 29.4,53.900000000000006" fill="#0b56a4"/></g></g></g>
<rect x="764" y="763" width="104" height="104" rx="15" ry="15" fill="#fff" stroke="#164c88" stroke-width="2"/>
<text x="816.8" y="859.7" text-anchor="middle">RFID</text>
<g transform="translate(764,763)"><rect x="34.1" y="15" width="35.5" height="57.8" rx="3.5" fill="#0b56a4"/><circle cx="51.85" cy="35.6" r="2.9" fill="#fff"/><g fill="none" stroke="#fff" stroke-width="1.7"><path d="M56.45,31.74 A6,6 0 0 1 56.45,39.46"/><path d="M47.25,31.74 A6,6 0 0 0 47.25,39.46"/><path d="M59.28,28.91 A10,10 0 0 1 59.28,42.29"/><path d="M44.42,28.91 A10,10 0 0 0 44.42,42.29"/><path d="M62.25,26.23 A14,14 0 0 1 62.25,44.97"/><path d="M41.45,26.23 A14,14 0 0 0 41.45,44.97"/></g></g>
<rect x="901" y="668" width="104" height="104" rx="15" ry="15" fill="#fff" stroke="#164c88" stroke-width="2"/>
<text x="953.8" y="764" text-anchor="middle">USB</text>
<g transform="translate(901,667)"><g fill="#0b56a4"><circle cx="23" cy="47" r="5.3"/><rect x="23" y="45.5" width="52" height="3"/><polygon points="74.2,40.9 84.2,46.9 74.2,53"/><circle cx="56.5" cy="36.2" r="5.2"/><rect x="58.5" y="53.2" width="9.2" height="8.4"/></g><g fill="none" stroke="#0b56a4" stroke-width="3"><path d="M38.5,47 Q41,37 48.5,36.3 H56"/><path d="M43.5,47 Q47,57 55,57.3 H60"/></g></g>
<rect x="1085" y="538" width="104" height="104" rx="15" ry="15" fill="#fff" stroke="#164c88" stroke-width="2"/>
<text x="1137.8" y="619.2" text-anchor="middle">Configuration</text>
<text x="1137.8" y="634.8" text-anchor="middle">via PC</text>
<g transform="translate(1085,538)"><g fill="none" stroke="#2d5a9c" stroke-width="1.1"><rect x="24.9" y="13.7" width="55.5" height="35.4"/><rect x="27.2" y="15.7" width="51.2" height="31.4"/><ellipse cx="52.8" cy="58.3" rx="18.8" ry="3.3"/></g><rect x="49.4" y="49.2" width="6.8" height="9" fill="#fff" stroke="#2d5a9c" stroke-width="1.1"/></g>
<rect x="1085" y="668" width="104" height="104" rx="15" ry="15" fill="#fff" stroke="#164c88" stroke-width="2"/>
<text x="1137.8" y="764.9" text-anchor="middle">LV-CAN200</text>
<g transform="translate(1085,668)"><rect x="22.2" y="22.9" width="57.7" height="37.8" rx="6" fill="#0b56a4"/><g fill="none" stroke="#fff" stroke-width="1.2" stroke-linejoin="miter"><polyline points="47.3,28.6 34.2,41.6 47.3,54.8"/><polyline points="55.3,28.6 42.2,41.6 55.3,54.8"/><polyline points="63.3,28.6 50.2,41.6 63.3,54.8"/></g><g fill="#fff"><polygon points="47.3,28.099999999999998 51.099999999999994,31.9 47.3,35.699999999999996 43.5,31.9"/><polygon points="47.3,47.7 51.099999999999994,51.5 47.3,55.3 43.5,51.5"/><polygon points="55.3,28.099999999999998 59.099999999999994,31.9 55.3,35.699999999999996 51.5,31.9"/><polygon points="55.3,47.7 59.099999999999994,51.5 55.3,55.3 51.5,51.5"/><polygon points="63.3,28.099999999999998 67.1,31.9 63.3,35.699999999999996 59.5,31.9"/><polygon points="63.3,47.7 67.1,51.5 63.3,55.3 59.5,51.5"/></g></g>
<rect x="1085" y="797" width="104" height="104" rx="15" ry="15" fill="#fff" stroke="#164c88" stroke-width="2"/>
<text x="1137.8" y="893.7" text-anchor="middle">MVC300</text>
<g transform="translate(1085,797)"><rect x="26" y="22.1" width="50.7" height="48" rx="7" fill="#0b56a4"/><circle cx="51.4" cy="46.1" r="15.6" fill="#fff"/><circle cx="51.4" cy="46.1" r="12.6" fill="#0b56a4"/><circle cx="51.4" cy="46.1" r="8.8" fill="#fff"/><polygon points="73.03,8.81 73.70,17.23 81.32,13.60 76.43,20.48 84.60,22.60 76.43,24.72 81.32,31.60 73.70,27.97 73.03,36.39 69.52,28.71 63.60,34.72 65.85,26.59 57.44,27.39 64.40,22.60 57.44,17.81 65.85,18.61 63.60,10.48 69.52,16.49" fill="#0b56a4" stroke="#fff" stroke-width="1.6" stroke-linejoin="miter"/><polygon points="73.03,8.81 73.70,17.23 81.32,13.60 76.43,20.48 84.60,22.60 76.43,24.72 81.32,31.60 73.70,27.97 73.03,36.39 69.52,28.71 63.60,34.72 65.85,26.59 57.44,27.39 64.40,22.60 57.44,17.81 65.85,18.61 63.60,10.48 69.52,16.49" fill="#0b56a4"/></g>
<rect x="1213" y="668" width="104" height="104" rx="15" ry="15" fill="#fff" stroke="#164c88" stroke-width="2"/>
<text x="1265.3" y="732.9" text-anchor="middle">Various</text>
<text x="1265.3" y="748.9" text-anchor="middle">vehicle</text>
<text x="1265.3" y="764.9" text-anchor="middle">CAN data</text>
<g transform="translate(1212,668)"><text x="8.4" y="47" text-anchor="middle" style="font-family:'Liberation Sans',sans-serif;font-weight:bold;font-size:10px;fill:#0b56a4">0</text><text x="8.5" y="32.7" text-anchor="middle" style="font-family:'Liberation Sans',sans-serif;font-weight:bold;font-size:10px;fill:#0b56a4">2</text><text x="18.6" y="19.6" text-anchor="middle" style="font-family:'Liberation Sans',sans-serif;font-weight:bold;font-size:10px;fill:#0b56a4">3</text><text x="33.6" y="14.7" text-anchor="middle" style="font-family:'Liberation Sans',sans-serif;font-weight:bold;font-size:10px;fill:#0b56a4">5</text><text x="48.5" y="18" text-anchor="middle" style="font-family:'Liberation Sans',sans-serif;font-weight:bold;font-size:10px;fill:#0b56a4">7</text><g stroke="#0b56a4" stroke-linecap="butt"><line x1="19.29" y1="32.55" x2="14.75" y2="31.33" stroke-width="1.6"/><line x1="19.19" y1="29.89" x2="16.73" y2="28.78" stroke-width="1.1"/><line x1="20.42" y1="27.67" x2="18.18" y2="26.17" stroke-width="1.1"/><line x1="22.74" y1="26.36" x2="19.32" y2="23.14" stroke-width="1.6"/><line x1="23.90" y1="23.98" x2="22.26" y2="21.83" stroke-width="1.1"/><line x1="26.04" y1="22.60" x2="24.78" y2="20.22" stroke-width="1.1"/><line x1="28.70" y1="22.55" x2="27.21" y2="18.09" stroke-width="1.6"/><line x1="30.85" y1="20.99" x2="30.43" y2="18.33" stroke-width="1.1"/><line x1="33.39" y1="20.80" x2="33.41" y2="18.10" stroke-width="1.1"/><line x1="35.76" y1="22.01" x2="36.55" y2="17.38" stroke-width="1.6"/><line x1="38.39" y1="21.66" x2="39.28" y2="19.11" stroke-width="1.1"/><line x1="40.72" y1="22.69" x2="42.01" y2="20.32" stroke-width="1.1"/><line x1="42.23" y1="24.87" x2="45.12" y2="21.17" stroke-width="1.6"/></g><circle cx="33.3" cy="36.3" r="3.2" fill="#0b56a4"/><line x1="33.3" y1="36.3" x2="30.4" y2="25.8" stroke="#0b56a4" stroke-width="1.3"/><rect x="57.1" y="8.9" width="8.5" height="30" rx="4.25" fill="#0b56a4"/><circle cx="61.4" cy="39.9" r="6.5" fill="#0b56a4"/><g stroke="#fff" stroke-width="0.8"><line x1="58.2" y1="22.5" x2="62.6" y2="22.5"/><line x1="58.2" y1="25" x2="62.6" y2="25"/><line x1="58.2" y1="27.5" x2="62.6" y2="27.5"/><line x1="58.2" y1="30" x2="62.6" y2="30"/><line x1="58.2" y1="32.5" x2="62.6" y2="32.5"/><line x1="58.2" y1="35" x2="62.6" y2="35"/></g><g transform="translate(51.95,-0.79) scale(0.63)"><g fill="#0b56a4"><circle cx="52.3" cy="33" r="4.3"/><line x1="52.3" y1="33" x2="70.3" y2="21" stroke="#0b56a4" stroke-width="1.9"/><rect x="29.8" y="32.4" width="5" height="2.3"/><rect x="70.7" y="32.4" width="5" height="2.3"/><rect x="51.3" y="11" width="2.4" height="5"/><circle cx="32.7" cy="25.2" r="0.9"/><circle cx="37.6" cy="18.4" r="0.9"/><circle cx="44.7" cy="13.8" r="0.9"/><circle cx="60.8" cy="13.8" r="0.9"/><circle cx="67.8" cy="18.4" r="0.9"/><circle cx="72.5" cy="25.2" r="0.9"/><path fill-rule="evenodd" d="M41.8,40.5 H63.2 V58.6 H61.2 V74.8 H43.4 V58.6 H41.8 Z M46.7,45 V54.5 H57.9 V45 Z"/><path d="M61.2,60.6 H64 Q66,60.8 66.5,63 L68.2,72 Q69,75 71.5,75 Q74,74.8 73.8,71.5 L70.2,52 Q70,48 68.5,46.5 L64.5,42.3" fill="none" stroke="#0b56a4" stroke-width="1.4"/><path d="M63.5,43.5 L66.5,46.5 L68.5,45 L65,41.5 Z"/></g></g></g>
<rect x="1302" y="546" width="104" height="104" rx="15" ry="15" fill="#fff" stroke="#164c88" stroke-width="2"/>
<text x="1354.3" y="641.7" text-anchor="middle">2X10 socket</text>
<g transform="translate(1301,545)"><path fill-rule="evenodd" fill="#0b56a4" d="M36.8,20.3 H49.9 Q52.9,20.3 52.9,23.3 V55.3 Q52.9,58.3 49.9,58.3 H36.8 Q33.8,58.3 33.8,55.3 V23.3 Q33.8,20.3 36.8,20.3 Z M37.8,23.6 H46.2 Q48.7,23.6 48.7,26.1 V52.5 Q48.7,55 46.2,55 H37.8 Q35.3,55 35.3,52.5 V26.1 Q35.3,23.6 37.8,23.6 Z"/><rect x="37.9" y="27.6" width="3.5" height="24.1" fill="#0b56a4"/><rect x="52" y="23.8" width="8" height="30.7" rx="2.5" fill="#0b56a4"/><path d="M60,39.8 A15.6,15.6 0 0 1 60,71 H43.6" fill="none" stroke="#0b56a4" stroke-width="4.8"/></g>
<rect x="1464" y="643" width="104" height="104" rx="15" ry="15" fill="#fff" stroke="#164c88" stroke-width="2"/>
<text x="1516.3" y="738.5" text-anchor="middle">Relay</text>
<g transform="translate(1463,642)"><g fill="none" stroke="#0b56a4" stroke-width="1.7"><rect x="39.9" y="34.2" width="42.4" height="27.3" rx="2.5"/><rect x="23" y="37.9" width="16.5" height="8.6"/><rect x="23" y="49.9" width="16.5" height="8.6"/></g><g fill="#0b56a4"><circle cx="26.9" cy="42.3" r="2.1"/><circle cx="26.9" cy="54.1" r="2.1"/><polygon points="58.5,38.1 65,38.1 62,45.6 66.2,46.3 59.5,57.8 61,48.1 55,47.8"/></g></g>
<rect x="1464" y="772" width="104" height="104" rx="15" ry="15" fill="#fff" stroke="#164c88" stroke-width="2"/>
<text x="1516.3" y="868.4" text-anchor="middle">Buzzer</text>
<g transform="translate(1463,772)"><polygon points="23.4,68.2 52.5,28.2 81.4,68.2" fill="none" stroke="#0b56a4" stroke-width="2.2" stroke-linejoin="miter"/><polygon points="41.1,49.8 47.8,49.8 57.7,42.3 57.7,64.7 47.8,57.8 41.1,57.8" fill="#0b56a4"/><g fill="none" stroke="#0b56a4" stroke-width="2.3"><path d="M23.70,44.1 A21.3,21.3 0 0 1 40.79,23.22"/><path d="M81.30,44.1 A21.3,21.3 0 0 0 64.21,23.22"/><path d="M31.10,44.1 A13.9,13.9 0 0 1 40.80,30.85"/><path d="M73.90,44.1 A13.9,13.9 0 0 0 64.20,30.85"/></g></g>
<rect x="192" y="964" width="104" height="104" rx="15" ry="15" fill="#fff" stroke="#164c88" stroke-width="2"/>
<text x="244.8" y="1045.3" text-anchor="middle">4 Digital</text>
<text x="244.8" y="1060.5" text-anchor="middle">inputs</text>
<rect x="381" y="964" width="104" height="104" rx="15" ry="15" fill="#fff" stroke="#164c88" stroke-width="2"/>
<text x="433.8" y="1013.4" text-anchor="middle">3 Analog</text>
<text x="433.8" y="1028.7" text-anchor="middle">inputs</text>
<rect x="575" y="964" width="104" height="104" rx="15" ry="15" fill="#fff" stroke="#164c88" stroke-width="2"/>
<text x="627.8" y="1021.4" text-anchor="middle">2 CAN lines</text>
<rect x="764" y="964" width="104" height="104" rx="15" ry="15" fill="#fff" stroke="#164c88" stroke-width="2"/>
<text x="816.3" y="1013.8" text-anchor="middle">Integrated</text>
<text x="816.3" y="1029.3" text-anchor="middle">Kline</text>
<rect x="1021" y="965" width="104" height="104" rx="15" ry="15" fill="#fff" stroke="#164c88" stroke-width="2"/>
<text x="1073.3" y="1021.4" text-anchor="middle">1-wire input</text>
<rect x="1302" y="966" width="104" height="104" rx="15" ry="15" fill="#fff" stroke="#164c88" stroke-width="2"/>
<text x="1354.3" y="1046.4" text-anchor="middle">4 Digital</text>
<text x="1354.3" y="1062.2" text-anchor="middle">outputs</text>
<g transform="translate(1301,965)"><rect x="12.6" y="20.1" width="79" height="36.5" rx="18.25" fill="none" stroke="#0b56a4" stroke-width="1.8"/><text x="19" y="49" textLength="39" lengthAdjust="spacingAndGlyphs" style="font-family:'Liberation Sans',sans-serif;font-weight:bold;font-size:28.5px;fill:#0b56a4">ON</text><circle cx="74.4" cy="38.9" r="9.6" fill="#0b56a4"/></g>
<rect x="126" y="1127" width="104" height="104" rx="15" ry="15" fill="#fff" stroke="#164c88" stroke-width="2"/>
<text x="178.8" y="1208.4" text-anchor="middle">Ignition</text>
<text x="178.8" y="1223.6" text-anchor="middle">detection</text>
<g transform="translate(126,1126)"><g transform="translate(24.4,32.7) scale(0.744) translate(-26.8,-25.2)"><g fill="none" stroke="#0b56a4" stroke-width="2.1" stroke-linejoin="round"><path d="M27.75,32.2 V51.8 M27.75,41.75 H33.1"/><path d="M33.1,50.5 V35 Q33.1,33.4 35,32.4 L38.3,29.8 H63.3 L66.2,32.6 Q67,33.3 69.2,33.6 Q71,34.2 71.6,36.5 Q72.2,38.5 73.5,38 Q75,37.5 75.5,33 Q76,31 76.5,32 Q77,35 77,50 Q77,56 75.5,56 Q74.5,56 74,52 Q73.5,49.5 72.5,50 Q71.5,51 71.2,55.2 H43.7 L40.7,52.2 H35 Q33.1,52.2 33.1,50.5 Z"/><path d="M43.3,26 H59.8 M52.15,26 V29.8"/></g></g><polygon points="65.6,13.8 76.6,13.8 69.5,27.5 79.9,28.1 66.9,50.3 72.1,32 59,32" fill="#0b56a4"/></g>
<rect x="253" y="1127" width="104" height="104" rx="15" ry="15" fill="#fff" stroke="#164c88" stroke-width="2"/>
<text x="305.8" y="1190.5" text-anchor="middle">Various</text>
<text x="305.8" y="1207.8" text-anchor="middle">Digital</text>
<text x="305.8" y="1223.6" text-anchor="middle">sensors (0;1)</text>
<g transform="translate(253,1126)"><g stroke="#0b56a4" stroke-width="2.6"><line x1="18.2" y1="35.5" x2="30" y2="35.5"/><line x1="35.1" y1="36" x2="59.9" y2="11.8"/><line x1="70" y1="35.5" x2="87.3" y2="35.5"/></g><circle cx="35.1" cy="36" r="6.3" fill="#0b56a4"/><circle cx="69.7" cy="36" r="6" fill="#0b56a4"/></g>
<rect x="381" y="1127" width="104" height="104" rx="15" ry="15" fill="#fff" stroke="#164c88" stroke-width="2"/>
<text x="433.8" y="1190.5" text-anchor="middle">Various</text>
<text x="433.8" y="1207.8" text-anchor="middle">Analog</text>
<text x="433.8" y="1223.6" text-anchor="middle">sensors</text>
<g transform="translate(381,1126)"><polyline points="17.1,32.8 29.1,32.8 36.1,10.4 41.4,51 50.4,20.8 54,32.8 63,32.8" fill="none" stroke="#0b56a4" stroke-width="1.8" stroke-linejoin="miter"/><circle cx="63" cy="32.8" r="3.6" fill="#0b56a4"/><g fill="none" stroke="#0b56a4" stroke-width="2.5"><path d="M68.16,27.64 A7.3,7.3 0 0 1 68.16,37.96"/><path d="M69.64,23.66 A11.3,11.3 0 0 1 69.64,41.94"/><path d="M72.29,20.02 A15.8,15.8 0 0 1 72.29,45.58"/></g></g>
<rect x="509" y="1127" width="104" height="104" rx="15" ry="15" fill="#fff" stroke="#164c88" stroke-width="2"/>
<text x="561.8" y="1183.5" text-anchor="middle">CAN 1</text>
<rect x="636" y="1127" width="104" height="104" rx="15" ry="15" fill="#fff" stroke="#164c88" stroke-width="2"/>
<text x="688.8" y="1183.5" text-anchor="middle">CAN 2</text>
<rect x="764" y="1127" width="104" height="104" rx="15" ry="15" fill="#fff" stroke="#164c88" stroke-width="2"/>
<text x="816.3" y="1201" text-anchor="middle">Live</text>
<text x="816.3" y="1213" text-anchor="middle">tachograph</text>
<text x="816.3" y="1226" text-anchor="middle">data</text>
<g transform="translate(763,1127)"><circle cx="55.6" cy="31.7" r="25" fill="none" stroke="#0b56a4" stroke-width="0.9" stroke-dasharray="1.6,2.2"/><rect x="49" y="23.7" width="27.1" height="13.6" rx="0.8" fill="#0b56a4"/><path d="M35.1,37.5 V32 Q35.5,29.8 38.5,29.5 Q41.5,25.5 45,25.3 H48 V37.6 Z" fill="#0b56a4"/><path d="M39.6,29.6 Q42,26.6 44.6,26.4 H46.6 V29.6 Z" fill="#fff"/><line x1="48.5" y1="24" x2="48.5" y2="34.5" stroke="#fff" stroke-width="0.8"/><circle cx="40.3" cy="36.4" r="3.6" fill="#fff"/><circle cx="40.3" cy="36.4" r="2.9" fill="#0b56a4"/><circle cx="40.3" cy="36.4" r="1.2" fill="#fff"/><circle cx="69.2" cy="36.4" r="3.6" fill="#fff"/><circle cx="69.2" cy="36.4" r="2.9" fill="#0b56a4"/><circle cx="69.2" cy="36.4" r="1.2" fill="#fff"/><g fill="#0b56a4"><ellipse cx="33.5" cy="41.5" rx="2.7" ry="1.5" transform="rotate(40 33.5 41.5)"/><ellipse cx="33.8" cy="47.7" rx="2.7" ry="1.5" transform="rotate(40 33.8 47.7)"/><ellipse cx="42.6" cy="47.4" rx="2.7" ry="1.5" transform="rotate(35 42.6 47.4)"/><ellipse cx="44" cy="52.9" rx="2.7" ry="1.5" transform="rotate(35 44 52.9)"/><ellipse cx="50" cy="51.5" rx="2.7" ry="1.5" transform="rotate(10 50 51.5)"/><ellipse cx="54" cy="56.5" rx="2.7" ry="1.5" transform="rotate(5 54 56.5)"/><polygon points="64.5,55.5 67,51 69.5,55.5"/></g></g>
<rect x="895" y="1128" width="104" height="104" rx="15" ry="15" fill="#fff" stroke="#164c88" stroke-width="2"/>
<text x="947.3" y="1191.6" text-anchor="middle">Multiple</text>
<text x="947.3" y="1208.8" text-anchor="middle">temperature</text>
<text x="947.3" y="1224.5" text-anchor="middle">sensors</text>
<g transform="translate(894,1128)"><g transform="translate(0,0)"><rect x="38.1" y="10.7" width="8.8" height="30" rx="4.4" fill="#0b56a4"/><circle cx="42.5" cy="42" r="6.8" fill="#0b56a4"/><rect x="40.1" y="28.3" width="4.2" height="13.7" rx="2.1" fill="#fff"/><circle cx="42.5" cy="42" r="3.4" fill="#fff"/></g><g stroke="#fff" stroke-width="0.7"><line x1="39.3" y1="24.4" x2="43" y2="24.4"/><line x1="39.3" y1="26.5" x2="44" y2="26.5"/></g><g transform="translate(19,0)"><rect x="38.1" y="10.7" width="8.8" height="30" rx="4.4" fill="#0b56a4"/><circle cx="42.5" cy="42" r="6.8" fill="#0b56a4"/><rect x="40.1" y="18.2" width="4.2" height="23.8" rx="2.1" fill="#fff"/><circle cx="42.5" cy="42" r="3.4" fill="#fff"/></g></g>
<rect x="1022" y="1128" width="104" height="104" rx="15" ry="15" fill="#fff" stroke="#164c88" stroke-width="2"/>
<text x="1074.3" y="1224.5" text-anchor="middle">RFID</text>
<g transform="translate(1021,1128)"><rect x="34.4" y="16.6" width="36" height="58.2" rx="3.5" fill="#0b56a4"/><circle cx="52.40" cy="37.4" r="2.9" fill="#fff"/><g fill="none" stroke="#fff" stroke-width="1.7"><path d="M57.00,33.54 A6,6 0 0 1 57.00,41.26"/><path d="M47.80,33.54 A6,6 0 0 0 47.80,41.26"/><path d="M59.83,30.71 A10,10 0 0 1 59.83,44.09"/><path d="M44.97,30.71 A10,10 0 0 0 44.97,44.09"/><path d="M62.80,28.03 A14,14 0 0 1 62.80,46.77"/><path d="M42.00,28.03 A14,14 0 0 0 42.00,46.77"/></g></g>
<rect x="1152" y="1128" width="104" height="104" rx="15" ry="15" fill="#fff" stroke="#164c88" stroke-width="2"/>
<text x="1204.3" y="1224.5" text-anchor="middle">Ibutton</text>
<g transform="translate(1151,1128)"><path d="M44.2,41.6 L63,23 Q65,21 67.2,23 L74,29.2 Q76,31.2 74.5,33.5 L58.4,53.8 Z" fill="#0b56a4"/><circle cx="43.6" cy="57" r="14.4" fill="#fff"/><circle cx="43.6" cy="57" r="13.3" fill="#0b56a4"/><circle cx="43.6" cy="57" r="9.5" fill="none" stroke="#fff" stroke-width="1"/></g>
<rect x="509" y="1261" width="104" height="104" rx="15" ry="15" fill="#fff" stroke="#164c88" stroke-width="2"/>
<text x="561.8" y="1342.4" text-anchor="middle">FMS J1939</text>
<text x="561.8" y="1358" text-anchor="middle">CAN bus</text>
<g transform="translate(509,1260)"><path d="M42.3,12.8 H59.5 L66.3,19.7 V43.5 Q66.3,45.3 64.5,45.3 H42.3 Q40.5,45.3 40.5,43.5 V14.6 Q40.5,12.8 42.3,12.8 Z" fill="#fff" stroke="#0b56a4" stroke-width="1.2"/><path d="M59.5,12.8 V18 Q59.5,19.7 61.2,19.7 H66.3" fill="none" stroke="#0b56a4" stroke-width="1.1"/><rect x="43.9" y="22.00" width="19" height="1.6" fill="#0b56a4"/><rect x="43.9" y="24.80" width="19" height="1.6" fill="#0b56a4"/><rect x="43.9" y="27.60" width="19" height="1.6" fill="#0b56a4"/><rect x="43.9" y="30.40" width="19" height="1.6" fill="#0b56a4"/><rect x="43.9" y="33.20" width="8" height="1.6" fill="#0b56a4"/><polyline points="56.8,34.2 62.3,40.3 70.5,28.3" fill="none" stroke="#fff" stroke-width="4.2"/><polyline points="57.3,34.6 62.3,40.3 70.1,28.5" fill="none" stroke="#0b56a4" stroke-width="2.6"/></g>
<rect x="636" y="1261" width="104" height="104" rx="15" ry="15" fill="#fff" stroke="#164c88" stroke-width="2"/>
<text x="688.8" y="1315.5" text-anchor="middle">Remote</text>
<text x="688.8" y="1331" text-anchor="middle">Tachograph</text>
<text x="688.8" y="1344.8" text-anchor="middle">DDD file</text>
<text x="688.8" y="1357.6" text-anchor="middle">download</text>
<g transform="translate(636,1260)"><path d="M42.3,9.4 H59.5 L66.3,16.3 V40.1 Q66.3,41.9 64.5,41.9 H42.3 Q40.5,41.9 40.5,40.1 V11.2 Q40.5,9.4 42.3,9.4 Z" fill="#fff" stroke="#0b56a4" stroke-width="1.2"/><path d="M59.5,9.4 V14.6 Q59.5,16.3 61.2,16.3 H66.3" fill="none" stroke="#0b56a4" stroke-width="1.1"/><text x="53.9" y="26.8" text-anchor="middle" textLength="17.8" lengthAdjust="spacingAndGlyphs" style="font-family:'Liberation Sans',sans-serif;font-weight:bold;font-size:8.6px;fill:#0b56a4">DDD</text></g>
<rect x="1464" y="899" width="104" height="104" rx="15" ry="15" fill="#fff" stroke="#164c88" stroke-width="2"/>
<text x="1516.3" y="995.9" text-anchor="middle">Led lights</text>
<g transform="translate(1463,898)"><path d="M47,55.8 V43 A5.95,5.95 0 0 1 58.9,43 V55.8 Z" fill="#0b56a4"/><rect x="44.2" y="57" width="16.8" height="2.8" fill="#0b56a4"/><rect x="48.9" y="61.1" width="2" height="5.6" fill="#0b56a4"/><rect x="54.3" y="61.1" width="2.2" height="5.6" fill="#0b56a4"/><g stroke="#0b56a4" stroke-width="2.7"><line x1="40.90" y1="42.40" x2="32.10" y2="42.40"/><line x1="42.48" y1="36.50" x2="35.81" y2="32.65"/><line x1="46.80" y1="32.18" x2="42.95" y2="25.51"/><line x1="52.70" y1="31.00" x2="52.70" y2="22.30"/><line x1="58.60" y1="32.18" x2="62.45" y2="25.51"/><line x1="62.92" y1="36.50" x2="69.59" y2="32.65"/><line x1="64.50" y1="42.40" x2="73.30" y2="42.40"/></g></g>
<rect x="1464" y="1031" width="104" height="104" rx="15" ry="15" fill="#fff" stroke="#164c88" stroke-width="2"/>
<text x="1516.3" y="1111.9" text-anchor="middle">Starter</text>
<text x="1516.3" y="1127.7" text-anchor="middle">control</text>
<g transform="translate(1463,1030)"><g fill="none" stroke="#0b56a4" stroke-width="1.8" stroke-linejoin="round"><path d="M27.75,33.3 V52.8 M27.75,42.6 H33.1"/><path d="M33.1,52 V35.5 Q33.1,34.1 35,33 L38.3,30.9 H65.3 Q77.5,31.5 77.5,43.5 Q77.5,50 70.5,55.9 H43.7 L40.7,52.9 H35 Q33.1,52.9 33.1,51 Z"/></g></g>
<rect x="1464" y="1161" width="104" height="104" rx="15" ry="15" fill="#fff" stroke="#164c88" stroke-width="2"/>
<text x="1516.3" y="1241.4" text-anchor="middle">Engine</text>
<text x="1516.3" y="1257.3" text-anchor="middle">control</text>
<g transform="translate(1463,1160)"><g fill="none" stroke="#0b56a4" stroke-width="1.8" stroke-linejoin="round"><path d="M27.75,32.2 V51.8 M27.75,41.75 H33.1"/><path d="M33.1,50.5 V35 Q33.1,33.4 35,32.4 L38.3,29.8 H63.3 L66.2,32.6 Q67,33.3 69.2,33.6 Q71,34.2 71.6,36.5 Q72.2,38.5 73.5,38 Q75,37.5 75.5,33 Q76,31 76.5,32 Q77,35 77,50 Q77,56 75.5,56 Q74.5,56 74,52 Q73.5,49.5 72.5,50 Q71.5,51 71.2,55.2 H43.7 L40.7,52.2 H35 Q33.1,52.2 33.1,50.5 Z"/><path d="M43.3,26 H59.8 M52.15,26 V29.8"/></g></g>
<rect x="1464" y="1288" width="104" height="104" rx="15" ry="15" fill="#fff" stroke="#164c88" stroke-width="2"/>
<text x="1516.3" y="1351.1" text-anchor="middle">Various</text>
<text x="1516.3" y="1366.9" text-anchor="middle">device</text>
<text x="1516.3" y="1383.1" text-anchor="middle">control</text>
<g transform="translate(1463,1287)"><circle cx="36.7" cy="18.4" r="3.95" fill="none" stroke="#0b56a4" stroke-width="2.10"/><rect x="35.40" y="11.50" width="2.6" height="2.90" fill="#0b56a4" transform="rotate(22.5 36.7 18.4)"/><rect x="35.40" y="11.50" width="2.6" height="2.90" fill="#0b56a4" transform="rotate(67.5 36.7 18.4)"/><rect x="35.40" y="11.50" width="2.6" height="2.90" fill="#0b56a4" transform="rotate(112.5 36.7 18.4)"/><rect x="35.40" y="11.50" width="2.6" height="2.90" fill="#0b56a4" transform="rotate(157.5 36.7 18.4)"/><rect x="35.40" y="11.50" width="2.6" height="2.90" fill="#0b56a4" transform="rotate(202.5 36.7 18.4)"/><rect x="35.40" y="11.50" width="2.6" height="2.90" fill="#0b56a4" transform="rotate(247.5 36.7 18.4)"/><rect x="35.40" y="11.50" width="2.6" height="2.90" fill="#0b56a4" transform="rotate(292.5 36.7 18.4)"/><rect x="35.40" y="11.50" width="2.6" height="2.90" fill="#0b56a4" transform="rotate(337.5 36.7 18.4)"/><circle cx="41.4" cy="36.9" r="8.05" fill="none" stroke="#0b56a4" stroke-width="3.90"/><rect x="39.30" y="24.40" width="4.2" height="3.50" fill="#0b56a4" transform="rotate(0.0 41.4 36.9)"/><rect x="39.30" y="24.40" width="4.2" height="3.50" fill="#0b56a4" transform="rotate(45.0 41.4 36.9)"/><rect x="39.30" y="24.40" width="4.2" height="3.50" fill="#0b56a4" transform="rotate(90.0 41.4 36.9)"/><rect x="39.30" y="24.40" width="4.2" height="3.50" fill="#0b56a4" transform="rotate(135.0 41.4 36.9)"/><rect x="39.30" y="24.40" width="4.2" height="3.50" fill="#0b56a4" transform="rotate(180.0 41.4 36.9)"/><rect x="39.30" y="24.40" width="4.2" height="3.50" fill="#0b56a4" transform="rotate(225.0 41.4 36.9)"/><rect x="39.30" y="24.40" width="4.2" height="3.50" fill="#0b56a4" transform="rotate(270.0 41.4 36.9)"/><rect x="39.30" y="24.40" width="4.2" height="3.50" fill="#0b56a4" transform="rotate(315.0 41.4 36.9)"/><circle cx="63.2" cy="22.8" r="9.50" fill="none" stroke="#0b56a4" stroke-width="4.60"/><rect x="60.80" y="8.10" width="4.8" height="3.90" fill="#0b56a4" transform="rotate(0.0 63.2 22.8)"/><rect x="60.80" y="8.10" width="4.8" height="3.90" fill="#0b56a4" transform="rotate(45.0 63.2 22.8)"/><rect x="60.80" y="8.10" width="4.8" height="3.90" fill="#0b56a4" transform="rotate(90.0 63.2 22.8)"/><rect x="60.80" y="8.10" width="4.8" height="3.90" fill="#0b56a4" transform="rotate(135.0 63.2 22.8)"/><rect x="60.80" y="8.10" width="4.8" height="3.90" fill="#0b56a4" transform="rotate(180.0 63.2 22.8)"/><rect x="60.80" y="8.10" width="4.8" height="3.90" fill="#0b56a4" transform="rotate(225.0 63.2 22.8)"/><rect x="60.80" y="8.10" width="4.8" height="3.90" fill="#0b56a4" transform="rotate(270.0 63.2 22.8)"/><rect x="60.80" y="8.10" width="4.8" height="3.90" fill="#0b56a4" transform="rotate(315.0 63.2 22.8)"/></g>
<text x="245" y="1012.3" text-anchor="middle" style="font-size:18px;fill:#0b56a4">ON/OFF</text>
</svg></body></html>
